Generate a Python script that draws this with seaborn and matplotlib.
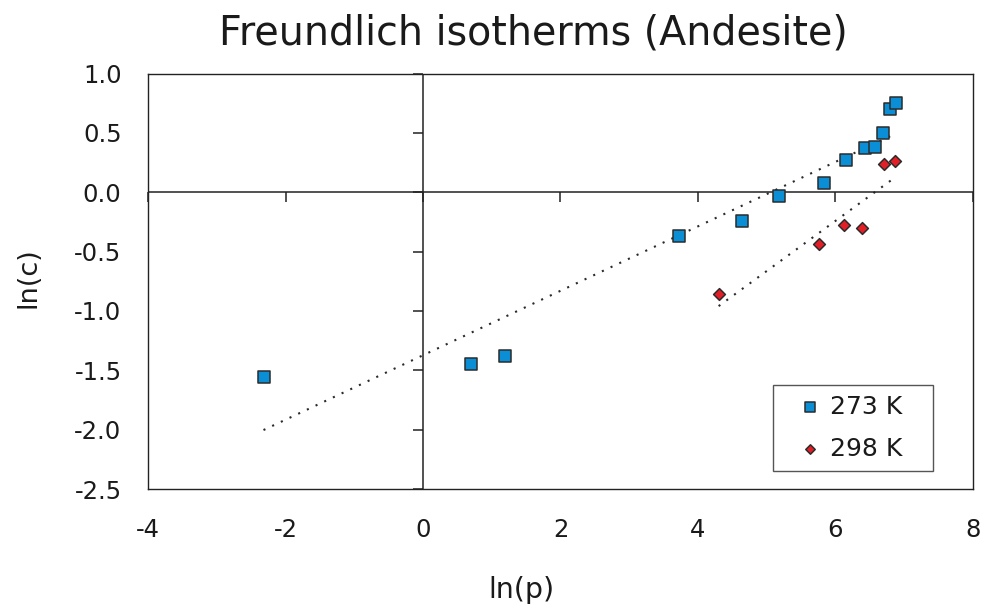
import numpy as np
import pandas as pd
import matplotlib
matplotlib.use("Agg")
import matplotlib.pyplot as plt
import seaborn as sns

# ln(p) / ln(c) pairs for the two temperatures
lnp_273 = [-2.32, 0.70, 1.19, 3.73, 4.64, 5.18, 5.83, 6.15, 6.43, 6.57, 6.69, 6.80, 6.88]
lnc_273 = [-1.56, -1.45, -1.38, -0.37, -0.24, -0.03, 0.08, 0.27, 0.37, 0.38, 0.50, 0.70, 0.75]
lnp_298 = [4.30, 5.76, 6.13, 6.39, 6.71, 6.87]
lnc_298 = [-0.86, -0.44, -0.28, -0.30, 0.24, 0.26]

series_labels = ["273 K", "298 K"]
x_ticks = [-4, -2, 0, 2, 4, 6, 8]
y_ticks = [-2.5, -2.0, -1.5, -1.0, -0.5, 0.0, 0.5, 1.0]
x_tick_labels = ["-4", "-2", "0", "2", "4", "6", "8"]
y_tick_labels = ["-2.5", "-2.0", "-1.5", "-1.0", "-0.5", "0.0", "0.5", "1.0"]

df273 = pd.DataFrame({"lnp": lnp_273, "lnc": lnc_273})
df298 = pd.DataFrame({"lnp": lnp_298, "lnc": lnc_298})

sns.set_theme(style="white")
plt.rcParams["font.family"] = ["DejaVu Sans"]
plt.rcParams["axes.unicode_minus"] = False

W, H = 982, 610
fig = plt.figure(figsize=(W / 100, H / 100), dpi=100)
ax = fig.add_axes([148 / W, 1 - 489 / H, (973 - 148) / W, (489 - 73.5) / H])

BLUE = "#0a8fd6"
RED = "#e41e26"
EDGE = "#2b2b2b"
AXC = "#222222"

# least-squares fits drawn as dotted lines
fit_kw = dict(color="#2a2a2a", lw=1.5, linestyle=(0, (1, 3.6)))
sns.regplot(data=df273, x="lnp", y="lnc", ax=ax, scatter=False, ci=None,
            truncate=True, line_kws=fit_kw)
sns.regplot(data=df298, x="lnp", y="lnc", ax=ax, scatter=False, ci=None,
            truncate=True, line_kws=fit_kw)

# axes through the origin with their own tick marks
ax.axhline(0, color=AXC, lw=1.1, zorder=2)
ax.axvline(0, color=AXC, lw=1.1, zorder=2)
ax.plot(x_ticks, [0] * len(x_ticks), ls="none", marker=3, ms=7.2, mew=1.1,
        color=AXC, clip_on=False, zorder=2)
ax.plot([0] * len(y_ticks), y_ticks, ls="none", marker=0, ms=7.2, mew=1.1,
        color=AXC, clip_on=False, zorder=2)

sns.scatterplot(data=df273, x="lnp", y="lnc", ax=ax, marker="s", s=72,
                color=BLUE, edgecolor=EDGE, linewidth=1.1, label=series_labels[0],
                zorder=4)
sns.scatterplot(data=df298, x="lnp", y="lnc", ax=ax, marker="D", s=36,
                color=RED, edgecolor=EDGE, linewidth=1.1, label=series_labels[1],
                zorder=4)

ax.set_xlim(-4, 8)
ax.set_ylim(-2.5, 1.0)
ax.set_xticks(x_ticks)
ax.set_xticklabels(x_tick_labels)
ax.set_yticks(y_ticks)
ax.set_yticklabels(y_tick_labels)
ax.tick_params(axis="both", length=0, labelsize=17.5, colors="#1a1a1a")
ax.tick_params(axis="y", pad=19)
ax.tick_params(axis="x", pad=21)
ax.set_xlabel("")
ax.set_ylabel("")
for sp in ax.spines.values():
    sp.set_visible(True)
    sp.set_color(AXC)
    sp.set_linewidth(1.0)

# legend box in the lower right
x0 = (773 - 148) / 825
y0 = (489 - 471) / 415.5
wid = (933 - 773) / 825
leg = ax.legend(loc="lower left", bbox_to_anchor=(x0, y0, wid, 0.2), mode="expand",
                borderaxespad=0, fontsize=18, frameon=True, fancybox=False,
                edgecolor="#555555", framealpha=1, borderpad=0.4, labelspacing=0.72,
                handlelength=2.16, handletextpad=-0.28, markerscale=0.8)
leg.get_frame().set_linewidth(1.0)
for t in leg.get_texts():
    t.set_color("#1a1a1a")

fig.text(533.5 / W, 1 - 45 / H, "Freundlich isotherms (Andesite)", ha="center",
         va="baseline", fontsize=28.5, color="#1a1a1a")
fig.text(521.5 / W, 1 - 590.5 / H, "ln(p)", ha="center", va="center",
         fontsize=20.5, color="#1a1a1a")
fig.text(29 / W, 1 - 277.5 / H, "ln(c)", ha="center", va="center", rotation=90,
         fontsize=19.5, color="#1a1a1a")

fig.savefig("out.png", dpi=100, facecolor="white")
